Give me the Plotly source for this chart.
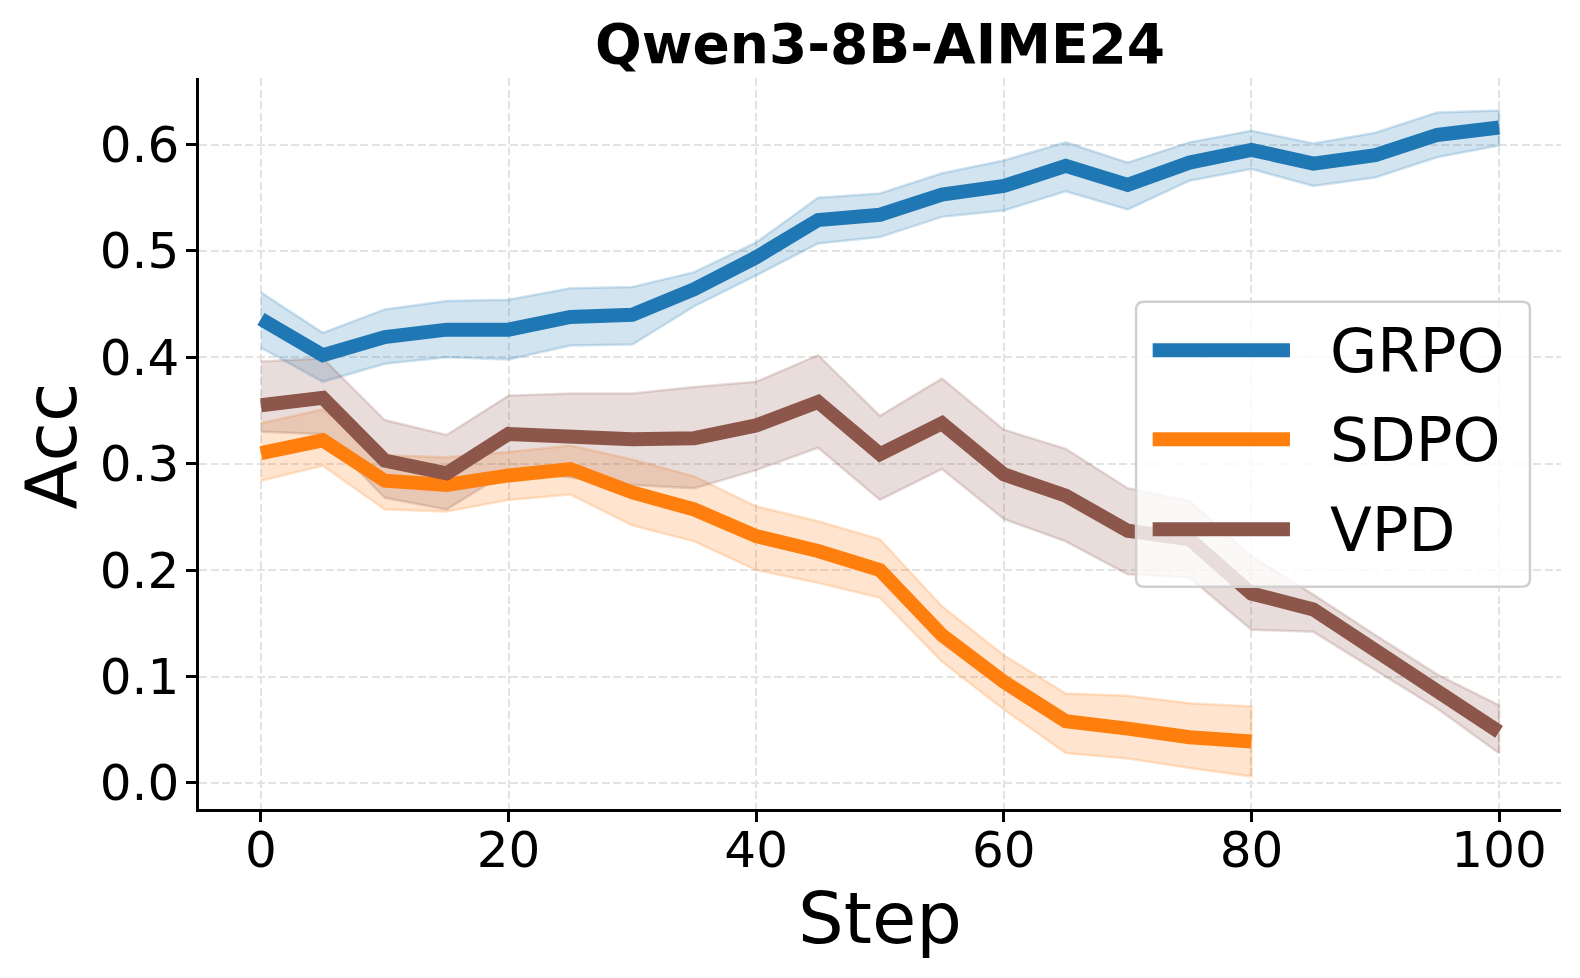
import plotly.graph_objects as go

# ---------------- data ----------------
steps = [0, 5, 10, 15, 20, 25, 30, 35, 40, 45, 50, 55, 60, 65, 70, 75, 80, 85, 90, 95, 100]
sdpo_steps = [0, 5, 10, 15, 20, 25, 30, 35, 40, 45, 50, 55, 60, 65, 70, 75, 80]

grpo_mean = [0.436, 0.402, 0.419, 0.426, 0.426, 0.438, 0.440, 0.464, 0.494, 0.529, 0.534,
             0.553, 0.561, 0.580, 0.562, 0.583, 0.595, 0.582, 0.590, 0.609, 0.616]
grpo_upper = [0.461, 0.423, 0.445, 0.453, 0.454, 0.465, 0.466, 0.480, 0.508, 0.550, 0.554,
              0.573, 0.585, 0.602, 0.583, 0.602, 0.613, 0.601, 0.611, 0.630, 0.632]
grpo_lower = [0.409, 0.377, 0.394, 0.400, 0.398, 0.411, 0.412, 0.448, 0.477, 0.507, 0.513,
              0.532, 0.538, 0.556, 0.539, 0.566, 0.577, 0.561, 0.569, 0.588, 0.599]

sdpo_mean = [0.310, 0.322, 0.284, 0.280, 0.289, 0.295, 0.273, 0.257, 0.232, 0.218, 0.200,
             0.139, 0.095, 0.058, 0.051, 0.043, 0.039]
sdpo_upper = [0.338, 0.351, 0.308, 0.306, 0.311, 0.317, 0.304, 0.288, 0.260, 0.246, 0.229,
              0.166, 0.120, 0.084, 0.082, 0.075, 0.072]
sdpo_lower = [0.284, 0.298, 0.257, 0.255, 0.266, 0.271, 0.242, 0.227, 0.200, 0.188, 0.174,
              0.114, 0.069, 0.028, 0.023, 0.014, 0.006]

vpd_mean = [0.355, 0.362, 0.303, 0.291, 0.328, 0.324, 0.323, 0.324, 0.336, 0.358, 0.309,
            0.338, 0.290, 0.270, 0.237, 0.229, 0.178, 0.163, 0.125, 0.084, 0.048]
vpd_upper = [0.396, 0.399, 0.341, 0.327, 0.364, 0.366, 0.366, 0.372, 0.377, 0.402, 0.345,
             0.380, 0.332, 0.314, 0.277, 0.265, 0.213, 0.177, 0.139, 0.102, 0.073]
vpd_lower = [0.330, 0.328, 0.268, 0.257, 0.293, 0.287, 0.280, 0.277, 0.294, 0.315, 0.266,
             0.295, 0.248, 0.227, 0.196, 0.193, 0.144, 0.142, 0.106, 0.070, 0.028]

methods = ["GRPO", "SDPO", "VPD"]
colors = {"GRPO": (31, 119, 180), "SDPO": (255, 127, 14), "VPD": (140, 86, 75)}
series = {
    "GRPO": (steps, grpo_mean, grpo_upper, grpo_lower),
    "SDPO": (sdpo_steps, sdpo_mean, sdpo_upper, sdpo_lower),
    "VPD": (steps, vpd_mean, vpd_upper, vpd_lower),
}

x_ticks = [0, 20, 40, 60, 80, 100]
y_ticks = [0.0, 0.1, 0.2, 0.3, 0.4, 0.5, 0.6]

FONT = "DejaVu Sans"


def rgba(c, a):
    return f"rgba({c[0]},{c[1]},{c[2]},{a})"


fig = go.Figure()

# shaded bands (drawn first, like matplotlib's zorder)
for m in methods:
    xs, mean, up, lo = series[m]
    c = colors[m]
    fig.add_trace(go.Scatter(
        x=list(xs) + list(xs)[::-1],
        y=list(up) + list(lo)[::-1],
        fill="toself",
        fillcolor=rgba(c, 0.2),
        line=dict(color=rgba(c, 0.2), width=2.5),
        mode="lines",
        hoverinfo="skip",
        showlegend=False,
    ))

# mean lines
for m in methods:
    xs, mean, up, lo = series[m]
    fig.add_trace(go.Scatter(
        x=xs, y=mean, mode="lines", name=m,
        line=dict(color=rgba(colors[m], 1), width=14),
        showlegend=False,
    ))

# ---------------- layout ----------------
grid = dict(showgrid=True, gridcolor="#e3e3e3", gridwidth=1.8, griddash="8px,3.5px")

fig.update_layout(
    width=1580, height=978,
    margin=dict(l=199, r=19, t=78, b=169),
    paper_bgcolor="white", plot_bgcolor="white",
    font=dict(family=FONT, color="black"),
    showlegend=False,
    title=dict(text="<b>Qwen3-8B-AIME24</b>", x=880 / 1580, xanchor="center",
               xref="container", yref="container", y=1 - 44 / 978, yanchor="middle",
               font=dict(size=55, family=FONT, color="black")),
    xaxis=dict(range=[-5, 105], tickvals=x_ticks, ticks="outside", ticklen=10,
               tickwidth=2.5, tickcolor="black", showline=True, linecolor="black",
               linewidth=2.5, mirror=False, zeroline=False, ticklabelstandoff=-15,
               tickfont=dict(size=50, family=FONT, color="black"), **grid),
    yaxis=dict(range=[-0.0245, 0.6625], tickvals=y_ticks, tickformat=".1f",
               ticks="outside", ticklen=10, tickwidth=2.5, tickcolor="black",
               showline=True, linecolor="black", linewidth=2.5, mirror=False,
               zeroline=False, ticklabelstandoff=-3,
               tickfont=dict(size=50, family=FONT, color="black"), **grid),
)

# axis titles
fig.add_annotation(text="Step", xref="paper", yref="paper", x=0.5, y=-0.149,
                   xanchor="center", yanchor="middle", showarrow=False,
                   font=dict(size=72, family=FONT, color="black"))
fig.add_annotation(text="Acc", xref="paper", yref="paper", x=-0.109, y=0.4966,
                   xanchor="center", yanchor="middle", textangle=-90, showarrow=False,
                   font=dict(size=72, family=FONT, color="black"))

# legend (matplotlib style: rounded, semi-transparent frame)
x0, x1, y0, y1 = 0.688, 0.9772, 0.3041, 0.694
rx, ry = 8 / 1362, 8 / 731
path = (f"M{x0 + rx},{y0} L{x1 - rx},{y0} Q{x1},{y0} {x1},{y0 + ry} "
        f"L{x1},{y1 - ry} Q{x1},{y1} {x1 - rx},{y1} L{x0 + rx},{y1} "
        f"Q{x0},{y1} {x0},{y1 - ry} L{x0},{y0 + ry} Q{x0},{y0} {x0 + rx},{y0} Z")
fig.add_shape(type="path", path=path, xref="paper", yref="paper",
              fillcolor="rgba(255,255,255,0.8)", line=dict(color="#d0d0d0", width=2.5),
              layer="above")
legend_y = [0.6275, 0.5057, 0.3826]
for m, ly in zip(methods, legend_y):
    fig.add_shape(type="line", xref="paper", yref="paper", x0=0.7002, x1=0.801,
                  y0=ly, y1=ly, line=dict(color=rgba(colors[m], 1), width=14),
                  layer="above")
    fig.add_annotation(text=m, xref="paper", yref="paper", x=0.829, y=ly,
                       xanchor="left", yanchor="middle", showarrow=False,
                       font=dict(size=61, family=FONT, color="black"))

fig.write_html("out.html")
